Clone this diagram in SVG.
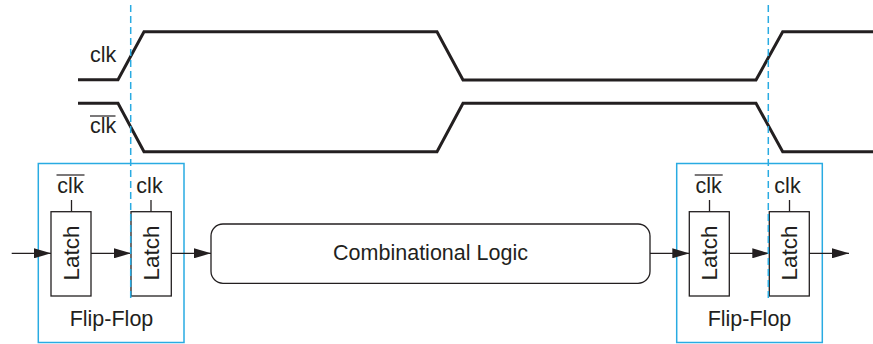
<svg xmlns="http://www.w3.org/2000/svg" width="873" height="344" viewBox="0 0 873 344">
<style>
  text { font-family: "Liberation Sans", Arial, sans-serif; fill: #231f20; }
  .lbl { font-size: 21.5px; }
  .latchtxt { font-size: 22.5px; text-anchor: middle; }
  .wave { fill: none; stroke: #231f20; stroke-width: 3; stroke-linejoin: miter; }
  .box { fill: #fff; stroke: #231f20; stroke-width: 1.3; }
  .ff { fill: none; stroke: #29abe2; stroke-width: 1.5; }
  .dash { stroke: #29abe2; stroke-width: 1.5; stroke-dasharray: 7 4; fill: none; }
  .wire { stroke: #231f20; stroke-width: 1.3; fill: none; }
  .ov { stroke: #231f20; stroke-width: 1.2; }
</style>
<defs>
  <marker id="arr" viewBox="0 0 17 10" refX="17" refY="5" markerWidth="17" markerHeight="10" markerUnits="userSpaceOnUse" orient="auto">
    <path d="M0,0 L17,5 L0,10 Z" fill="#231f20"/>
  </marker>
</defs>

<g id="waveforms">
  <text class="lbl" x="90" y="62">clk</text>
  <path class="wave" d="M78,79.7 L118,79.7 L144,31.7 L437,31.7 L463,80 L756,80 L782.7,31.7 L873,31.7"/>
  <text class="lbl" x="90" y="133">clk</text>
  <line class="ov" x1="90" y1="116" x2="115.5" y2="116"/>
  <path class="wave" d="M78,103.3 L118,103.3 L144,151.7 L437,151.7 L463,103.3 L756,103.3 L782.7,151.7 L873,151.7"/>
</g>

<g id="ff1">
  <rect class="ff" x="38.3" y="163.5" width="145.7" height="179"/>
  <text class="lbl" x="111.5" y="326" text-anchor="middle">Flip-Flop</text>
</g>
<g id="latch1">
  <rect class="box" x="51" y="211.7" width="40" height="84.3"/>
  <line class="wire" x1="71.5" y1="200" x2="71.5" y2="211.7"/>
  <text class="lbl" x="70.5" y="193" text-anchor="middle">clk</text>
  <line class="ov" x1="56.5" y1="175" x2="84.5" y2="175"/>
  <text class="latchtxt" transform="translate(79,253) rotate(-90)">Latch</text>
</g>
<g id="latch2">
  <rect class="box" x="131" y="211.7" width="40.3" height="84.3"/>
  <line class="wire" x1="151" y1="200" x2="151" y2="211.7"/>
  <text class="lbl" x="149.5" y="193" text-anchor="middle">clk</text>
  <text class="latchtxt" transform="translate(159,253) rotate(-90)">Latch</text>
</g>

<g id="comb">
  <rect class="box" x="211" y="224" width="439" height="59.3" rx="12" ry="12"/>
  <text class="lbl" x="430.5" y="260" text-anchor="middle">Combinational Logic</text>
</g>

<g id="ff2">
  <rect class="ff" x="676.7" y="163.5" width="145.6" height="179"/>
  <text class="lbl" x="749.5" y="326" text-anchor="middle">Flip-Flop</text>
</g>
<g id="latch3">
  <rect class="box" x="689.3" y="211.7" width="40" height="84.3"/>
  <line class="wire" x1="709.5" y1="200" x2="709.5" y2="211.7"/>
  <text class="lbl" x="708.7" y="193" text-anchor="middle">clk</text>
  <line class="ov" x1="694.7" y1="175" x2="722.7" y2="175"/>
  <text class="latchtxt" transform="translate(717.3,253) rotate(-90)">Latch</text>
</g>
<g id="latch4">
  <rect class="box" x="769.3" y="211.7" width="40" height="84.3"/>
  <line class="wire" x1="789.5" y1="200" x2="789.5" y2="211.7"/>
  <text class="lbl" x="787.5" y="193" text-anchor="middle">clk</text>
  <text class="latchtxt" transform="translate(797.3,253) rotate(-90)">Latch</text>
</g>

<g id="connectors">
  <line class="wire" x1="11.7" y1="253.3" x2="51" y2="253.3" marker-end="url(#arr)"/>
  <line class="wire" x1="91" y1="253.3" x2="131" y2="253.3" marker-end="url(#arr)"/>
  <line class="wire" x1="171.3" y1="253.3" x2="211" y2="253.3" marker-end="url(#arr)"/>
  <line class="wire" x1="650" y1="253.3" x2="689.3" y2="253.3" marker-end="url(#arr)"/>
  <line class="wire" x1="729.3" y1="253.3" x2="769.3" y2="253.3" marker-end="url(#arr)"/>
  <line class="wire" x1="809.3" y1="253.3" x2="849" y2="253.3" marker-end="url(#arr)"/>
</g>

<g id="timing-markers">
  <line class="dash" x1="130.7" y1="5" x2="130.7" y2="300"/>
  <line class="dash" x1="768.3" y1="5" x2="768.3" y2="300"/>
</g>
</svg>
